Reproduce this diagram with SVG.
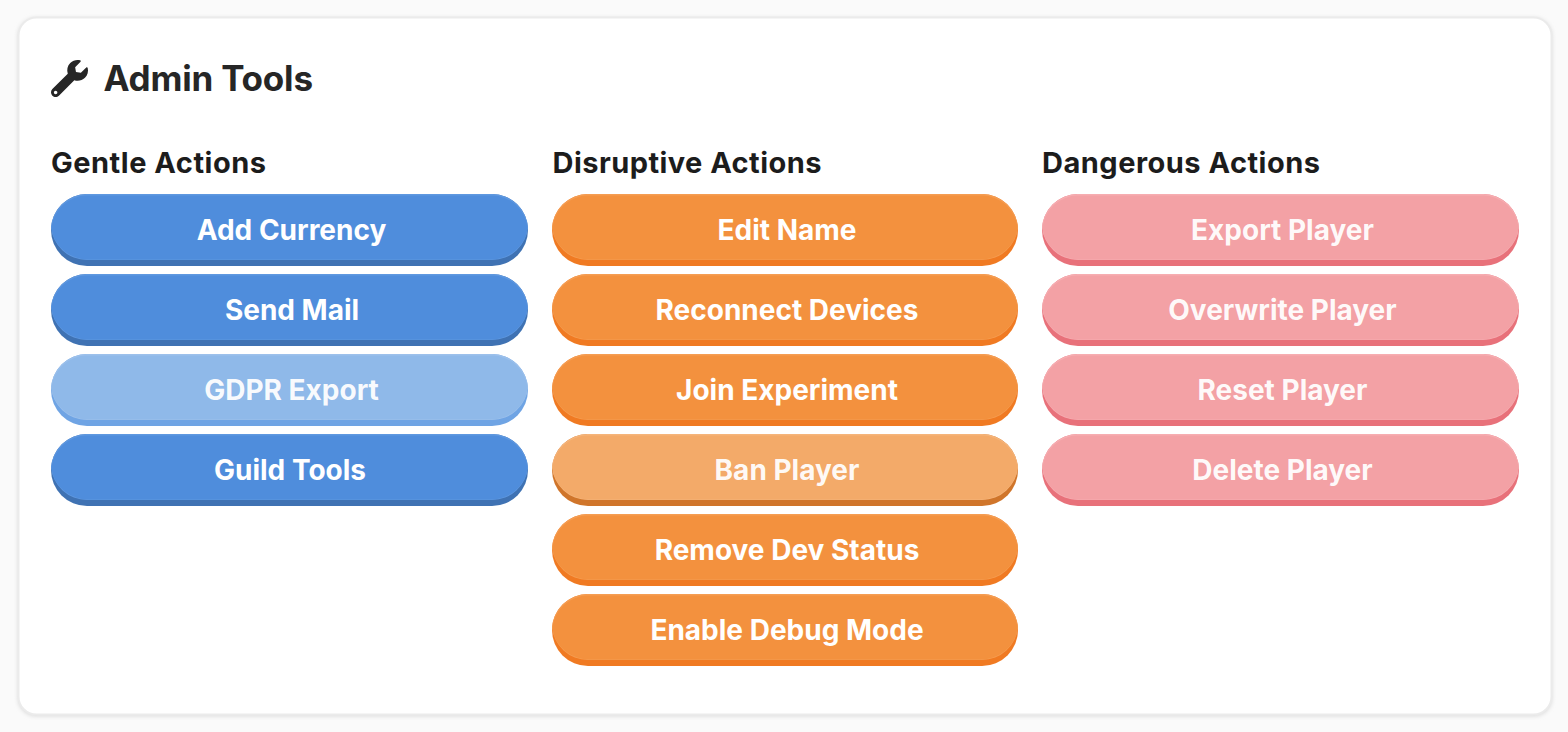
<svg xmlns="http://www.w3.org/2000/svg" width="1568" height="732" viewBox="0 0 1568 732">
<style>
text{font-family:Inter,"Liberation Sans",sans-serif;font-weight:700}
.title{font-size:35px;fill:#262626}
.head{font-size:29px;fill:#1c1c1c}
.lbl{font-size:28px;fill:#fff;text-anchor:middle}
.fade{fill-opacity:.94}
.blue .base{fill:#3f72b3}.blue .rim{fill:#5f98e0}.blue .face{fill:#4f8ddc}
.gdpr .base{fill:#6fa4e4}.gdpr .rim{fill:#9cc0eb}.gdpr .face{fill:#8fb9e9}
.orange .base{fill:#f07a22}.orange .rim{fill:#f59d52}.orange .face{fill:#f3913e}
.ban .base{fill:#d0752a}.ban .rim{fill:#f5b47a}.ban .face{fill:#f3aa69}
.red .base{fill:#e8717a}.red .rim{fill:#f6adb1}.red .face{fill:#f3a1a5}
</style>
<defs>
<filter id="soft" x="-2%" y="-2%" width="104%" height="105%"><feGaussianBlur stdDeviation="2"/></filter>
<path id="rw" d="M0 36A36 36 0 0 1 36 0H441A36 36 0 0 1 477 36A36 36 0 0 1 441 72H36A36 36 0 0 1 0 36Z"/>
<path id="rn" d="M0 36A36 36 0 0 1 36 0H430A36 36 0 0 1 466 36A36 36 0 0 1 430 72H36A36 36 0 0 1 0 36Z"/>
<path id="rimw" d="M0 33A36 36 0 0 1 36 0H441A36 36 0 0 1 477 33A36 36 0 0 1 441 66H36A36 36 0 0 1 0 33Z"/>
<path id="rimn" d="M0 33A36 36 0 0 1 36 0H430A36 36 0 0 1 466 33A36 36 0 0 1 430 66H36A36 36 0 0 1 0 33Z"/>
<path id="facew" d="M.5 33A36 36 0 0 1 36 1.500H441A36 36 0 0 1 476.500 33A38 34 0 0 1 436 65.500H41A38 34 0 0 1 .5 33Z"/>
<path id="facen" d="M.5 33A36 36 0 0 1 36 1.500H430A36 36 0 0 1 465.500 33A38 34 0 0 1 425 65.500H41A38 34 0 0 1 .5 33Z"/>
</defs>
<rect width="1568" height="732" fill="#fafafa"/>
<rect x="18" y="18" width="1534" height="698" rx="18" fill="#d8d8d8" filter="url(#soft)"/>
<rect x="18.500" y="17.500" width="1533" height="697" rx="18" fill="#fff" stroke="#ebebeb" stroke-width="2"/>
<g id="header">
<path transform="translate(51 60) scale(.0723)" fill="#262626" d="M507.73 109.1c-2.24-9.03-13.54-12.09-20.12-5.51l-74.36 74.36-67.88-11.31-11.31-67.88 74.36-74.36c6.62-6.62 3.43-17.9-5.66-20.16-47.38-11.74-99.55.91-136.58 37.93-39.64 39.64-50.55 97.1-34.05 147.2L18.74 402.76c-24.99 24.99-24.99 65.51 0 90.5 24.99 24.99 65.51 24.99 90.5 0l213.21-213.21c50.12 16.71 107.47 5.68 147.37-34.22 37.07-37.07 49.7-89.32 37.91-136.73zM64 472c-13.25 0-24-10.75-24-24 0-13.26 10.75-24 24-24s24 10.74 24 24c0 13.25-10.75 24-24 24z"/>
<text class="title" x="103.500" y="91" textLength="209.500">Admin Tools</text>
</g>
<g id="headings">
<text class="head" x="51" y="172.500" textLength="215">Gentle Actions</text>
<text class="head" x="552.500" y="172.500" textLength="269">Disruptive Actions</text>
<text class="head" x="1042" y="172.500" textLength="278">Dangerous Actions</text>
</g>
<g id="btn-add-currency" class="blue" transform="translate(51 194)"><use href="#rw" class="base"/><use href="#rimw" class="rim"/><use href="#facew" class="face"/><text class="lbl" x="240.500" y="46">Add Currency</text></g>
<g id="btn-send-mail" class="blue" transform="translate(51 274)"><use href="#rw" class="base"/><use href="#rimw" class="rim"/><use href="#facew" class="face"/><text class="lbl" x="241" y="46">Send Mail</text></g>
<g id="btn-gdpr-export" class="gdpr" transform="translate(51 354)"><use href="#rw" class="base"/><use href="#rimw" class="rim"/><use href="#facew" class="face"/><text class="lbl fade" x="240.500" y="46">GDPR Export</text></g>
<g id="btn-guild-tools" class="blue" transform="translate(51 434)"><use href="#rw" class="base"/><use href="#rimw" class="rim"/><use href="#facew" class="face"/><text class="lbl" x="239" y="46">Guild Tools</text></g>
<g id="btn-edit-name" class="orange" transform="translate(552 194)"><use href="#rn" class="base"/><use href="#rimn" class="rim"/><use href="#facen" class="face"/><text class="lbl" x="235" y="46">Edit Name</text></g>
<g id="btn-reconnect-devices" class="orange" transform="translate(552 274)"><use href="#rn" class="base"/><use href="#rimn" class="rim"/><use href="#facen" class="face"/><text class="lbl" x="235" y="46">Reconnect Devices</text></g>
<g id="btn-join-experiment" class="orange" transform="translate(552 354)"><use href="#rn" class="base"/><use href="#rimn" class="rim"/><use href="#facen" class="face"/><text class="lbl" x="235" y="46">Join Experiment</text></g>
<g id="btn-ban-player" class="ban" transform="translate(552 434)"><use href="#rn" class="base"/><use href="#rimn" class="rim"/><use href="#facen" class="face"/><text class="lbl fade" x="235" y="46">Ban Player</text></g>
<g id="btn-remove-dev-status" class="orange" transform="translate(552 514)"><use href="#rn" class="base"/><use href="#rimn" class="rim"/><use href="#facen" class="face"/><text class="lbl" x="235" y="46">Remove Dev Status</text></g>
<g id="btn-enable-debug-mode" class="orange" transform="translate(552 594)"><use href="#rn" class="base"/><use href="#rimn" class="rim"/><use href="#facen" class="face"/><text class="lbl" x="235" y="46">Enable Debug Mode</text></g>
<g id="btn-export-player" class="red" transform="translate(1042 194)"><use href="#rw" class="base"/><use href="#rimw" class="rim"/><use href="#facew" class="face"/><text class="lbl fade" x="240.500" y="46">Export Player</text></g>
<g id="btn-overwrite-player" class="red" transform="translate(1042 274)"><use href="#rw" class="base"/><use href="#rimw" class="rim"/><use href="#facew" class="face"/><text class="lbl fade" x="240.500" y="46">Overwrite Player</text></g>
<g id="btn-reset-player" class="red" transform="translate(1042 354)"><use href="#rw" class="base"/><use href="#rimw" class="rim"/><use href="#facew" class="face"/><text class="lbl fade" x="240.500" y="46">Reset Player</text></g>
<g id="btn-delete-player" class="red" transform="translate(1042 434)"><use href="#rw" class="base"/><use href="#rimw" class="rim"/><use href="#facew" class="face"/><text class="lbl fade" x="240.500" y="46">Delete Player</text></g>
<g id="connectors"/>
</svg>
